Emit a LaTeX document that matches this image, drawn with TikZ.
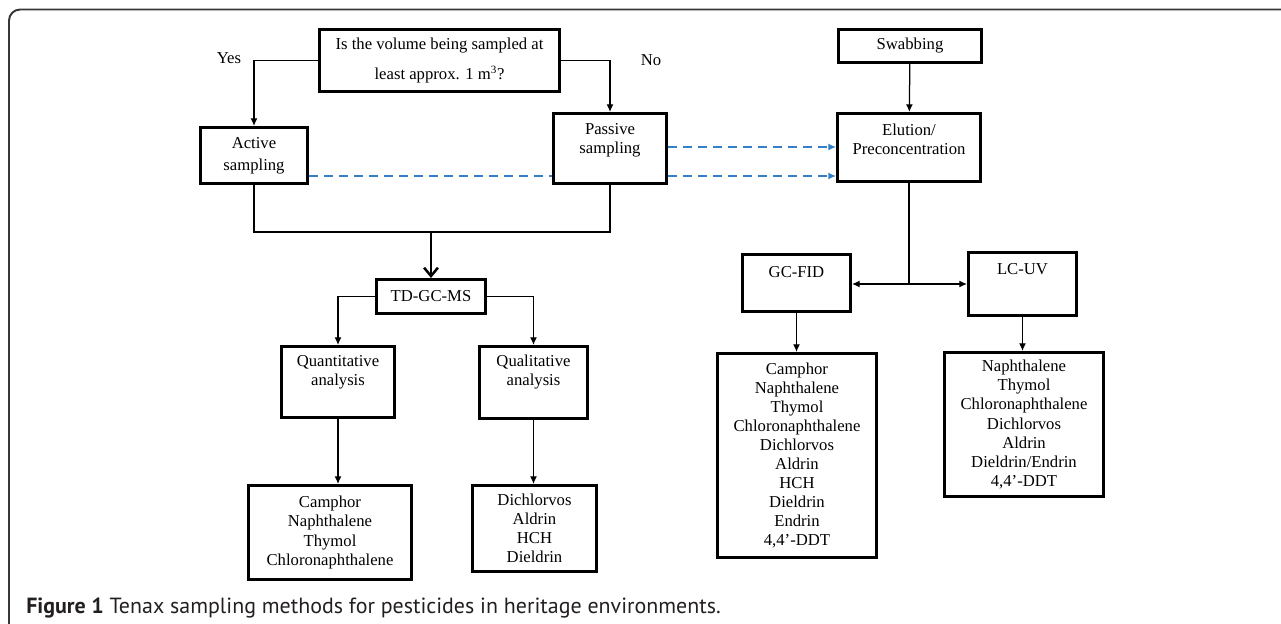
\documentclass[tikz,border=0pt]{standalone}
\usepackage{fontspec}
\setmainfont{Liberation Serif}
\newfontfamily\capfont{PT Sans}
\usetikzlibrary{arrows.meta}
\definecolor{cldash}{RGB}{52,128,198}
\definecolor{clframe}{RGB}{55,55,55}
\definecolor{clcap}{RGB}{35,31,32}
\newcommand{\pu}{0.72pt}

\begin{document}
\begin{tikzpicture}[x=0.72pt, y=-0.72pt]
    \tikzstyle{box} = [draw, line width=2.2pt, fill=white, inner sep=0pt, align=center, font=\fontsize{12}{13.7}\selectfont]
    \tikzstyle{lbl} = [inner sep=0pt, align=center, font=\fontsize{12}{13.7}\selectfont]
    \tikzstyle{plain} = [line width=0.9pt]
    \tikzstyle{conn} = [line width=0.9pt, -{Latex[length=5.5pt,width=5pt]}]
    \tikzstyle{bigarrow} = [line width=1.8pt, -{Straight Barb[length=6pt,width=10pt]}]
    \tikzstyle{dashline} = [cldash, line width=0.9pt, dash pattern=on 6.5pt off 4.3pt]
    \useasboundingbox (0,0) rectangle (1281,624);
    \draw[clframe, line width=1.4pt, rounded corners=8pt] (9,660) -- (9,9.5) -- (1320,9.5);

    % sampling choice
    \node[box, minimum width=240*\pu, minimum height=62*\pu] (q) at (439.5,60.5)
        {Is the volume being sampled at\\[8.6pt] least approx. 1 m\textsuperscript{3}?};
    \node[lbl] (yes) at (229,58) {Yes};
    \node[lbl] (no) at (651,60) {No};
    \node[box, minimum width=107*\pu, minimum height=56*\pu] (active) at (254,155.5)
        {Active\\[2.2pt] sampling};
    \node[box, minimum width=113*\pu, minimum height=70*\pu] (passive) at (610,148.5) {};
    \node[lbl] (passive-t) at (610,140) {Passive\\sampling};

    % swabbing branch
    \node[box, minimum width=143*\pu, minimum height=33*\pu] (swab) at (910,46) {Swabbing};
    \node[box, minimum width=143*\pu, minimum height=68*\pu] (elution) at (909,147.5) {};
    \node[lbl] (elution-t) at (909,139.5) {Elution/\\Preconcentration};

    % analysis
    \node[box, minimum width=109*\pu, minimum height=34*\pu] (td) at (431,296.5) {TD-GC-MS};
    \node[box, minimum width=113*\pu, minimum height=71*\pu] (quant) at (338,382) {};
    \node[lbl] (quant-t) at (338,372.5) {Quantitative\\analysis};
    \node[box, minimum width=108*\pu, minimum height=72*\pu] (qual) at (533.5,382.5) {};
    \node[lbl] (qual-t) at (533.5,372.5) {Qualitative\\analysis};
    \node[box, minimum width=163*\pu, minimum height=94*\pu] (quantlist) at (330,532.5)
        {Camphor\\Naphthalene\\Thymol\\Chloronaphthalene};
    \node[box, minimum width=124*\pu, minimum height=86*\pu] (quallist) at (534.5,528.5)
        {Dichlorvos\\Aldrin\\HCH\\Dieldrin};

    \node[box, minimum width=108*\pu, minimum height=57*\pu] (gcfid) at (796.5,283) {};
    \node[lbl] (gcfid-t) at (796.5,272) {GC-FID};
    \node[box, minimum width=108*\pu, minimum height=63*\pu] (lcuv) at (1022.5,284) {};
    \node[lbl] (lcuv-t) at (1022.5,269) {LC-UV};
    \node[box, minimum width=159*\pu, minimum height=204*\pu] (gclist) at (797,455.5)
        {Camphor\\Naphthalene\\Thymol\\Chloronaphthalene\\Dichlorvos\\Aldrin\\HCH\\Dieldrin\\Endrin\\4,4’-DDT};
    \node[box, minimum width=159*\pu, minimum height=144*\pu] (lclist) at (1024,424.5)
        {Naphthalene\\Thymol\\Chloronaphthalene\\Dichlorvos\\Aldrin\\Dieldrin/Endrin\\4,4’-DDT};

    \coordinate (lane) at (0,176);
    \coordinate (lane2) at (0,147);
    \coordinate (join) at (431,232);
    \coordinate (split) at (909,284);

    \draw[conn] (q.west) -| (active.north);
    \draw[conn] (q.east) -| (passive.north);
    \draw[conn] (swab) -- (elution);
    \draw[dashline] (active.east |- lane) -- (passive.west |- lane);
    \draw[dashline, -{Latex[length=5.5pt,width=5pt]}] (passive.east |- lane2) -- (elution.west |- lane2);
    \draw[dashline, -{Latex[length=5.5pt,width=5pt]}] (passive.east |- lane) -- (elution.west |- lane);
    \draw[plain] (active.south) |- (join) -| (passive.south);
    \draw[bigarrow] (join) -- (td.north);
    \draw[conn] (td.west) -| (quant.north);
    \draw[conn] (td.east) -| (qual.north);
    \draw[conn] (quant.south) -- (quant.south |- quantlist.north);
    \draw[conn] (qual.south) -- (qual.south |- quallist.north);
    \draw[plain] (elution.south) -- (split);
    \draw[conn] (split) -- (split -| gcfid.east);
    \draw[conn] (split) -- (split -| lcuv.west);
    \draw[conn] (gcfid.south) -- (gcfid.south |- gclist.north);
    \draw[conn] (lcuv.south) -- (lcuv.south |- lclist.north);

    \node[anchor=west, inner sep=0pt, text=clcap, font=\capfont\fontsize{15.8}{18}\selectfont] (caption) at (26,608)
        {\textbf{Figure 1} Tenax sampling methods for pesticides in heritage environments.};
\end{tikzpicture}
\end{document}
